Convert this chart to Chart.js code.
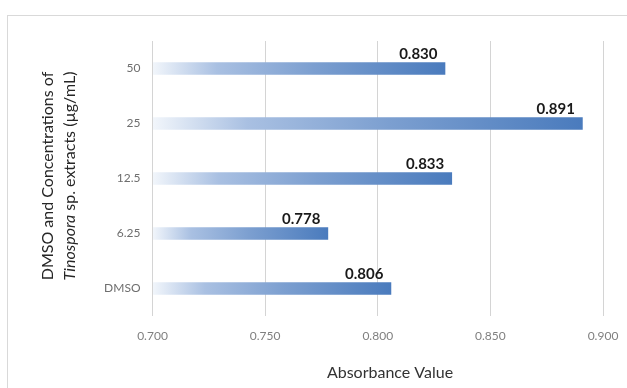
<!DOCTYPE html>
<html>
<head>
<meta charset="utf-8">
<script src="https://cdn.jsdelivr.net/npm/chart.js@4/dist/chart.umd.min.js"></script>
<style>
  html, body { margin: 0; padding: 0; background: #ffffff; }
  #wrap { width: 627px; height: 388px; position: relative; }
</style>
</head>
<body>
<div id="wrap"><canvas id="c" width="627" height="388"></canvas></div>
<script>
// Absorbance readings for DMSO and each extract concentration (µg/mL)
const categories = ['50', '25', '12.5', '6.25', 'DMSO'];
const absorbance = [0.830, 0.891, 0.833, 0.778, 0.806];
const xTicks = [0.700, 0.750, 0.800, 0.850, 0.900];
const xMin = 0.700;
const xMax = 0.900;

const FONT = 'Lato, "Open Sans", "Liberation Sans", sans-serif';

// Horizontal gradient along each bar: pale at the axis start, deep blue at the bar end
function barFill(ctx) {
  const chart = ctx.chart;
  if (!chart.chartArea || !chart.scales.x) return '#4f81bd';
  const sx = chart.scales.x;
  const x0 = sx.getPixelForValue(xMin);
  const x1 = sx.getPixelForValue(absorbance[ctx.dataIndex]);
  const g = chart.ctx.createLinearGradient(x0, 0, x1, 0);
  g.addColorStop(0, 'rgba(242,246,251,1)');
  g.addColorStop(0.22, '#a9c0e2');
  g.addColorStop(0.55, '#7c9fd0');
  g.addColorStop(1, '#4a7bbd');
  return g;
}

// Outer frame, axis titles and value labels
const decorations = {
  id: 'decorations',
  beforeDraw(chart) {
    const c = chart.ctx;
    c.save();
    c.fillStyle = '#ffffff';
    c.fillRect(0, 0, chart.width, chart.height);
    c.strokeStyle = '#d9d9d9';
    c.lineWidth = 1;
    c.strokeRect(7.5, 15.5, 800, 600);
    c.restore();
  },
  afterDatasetsDraw(chart) {
    const c = chart.ctx;
    const sx = chart.scales.x;
    const meta = chart.getDatasetMeta(0);
    c.save();
    // value labels above the bar ends
    c.font = 'bold 15px ' + FONT;
    c.fillStyle = '#1a1a1a';
    c.textAlign = 'center';
    c.textBaseline = 'alphabetic';
    meta.data.forEach((bar, i) => {
      const xEnd = sx.getPixelForValue(absorbance[i]);
      c.fillText(absorbance[i].toFixed(3), xEnd - 27, bar.y - 10);
    });

    // x axis title
    c.font = '16px ' + FONT;
    c.fillStyle = '#333333';
    c.textBaseline = 'middle';
    c.fillText('Absorbance Value', 390, 373);

    // y axis title (two lines, genus name in italics)
    c.translate(0, 176);
    c.rotate(-Math.PI / 2);
    c.textBaseline = 'middle';
    c.textAlign = 'center';
    c.fillStyle = '#262626';
    c.font = '16px ' + FONT;
    c.fillText('DMSO and Concentrations of', 0, 48);
    const italicPart = 'Tinospora';
    const rest = ' sp. extracts (µg/mL)';
    c.font = 'italic 16px ' + FONT;
    const w1 = c.measureText(italicPart).width;
    c.font = '16px ' + FONT;
    const w2 = c.measureText(rest).width;
    const start = -(w1 + w2) / 2;
    c.textAlign = 'left';
    c.font = 'italic 16px ' + FONT;
    c.fillText(italicPart, start, 70);
    c.font = '16px ' + FONT;
    c.fillText(rest, start + w1, 70);
    c.restore();
  }
};

new Chart(document.getElementById('c'), {
  type: 'bar',
  data: {
    labels: categories,
    datasets: [{
      data: absorbance,
      base: xMin,
      backgroundColor: barFill,
      borderWidth: 0,
      categoryPercentage: 1,
      barPercentage: 0.23
    }]
  },
  options: {
    indexAxis: 'y',
    responsive: false,
    animation: false,
    devicePixelRatio: 1,
    layout: { padding: { left: 0, right: 24, top: 41, bottom: 0 } },
    plugins: {
      legend: { display: false },
      tooltip: { enabled: false }
    },
    scales: {
      x: {
        min: xMin,
        max: xMax,
        afterBuildTicks(scale) { scale.ticks = xTicks.map(v => ({ value: v })); },
        afterFit(scale) {
          scale.height = 72;
          scale.paddingLeft = 0;
          scale.paddingRight = 0;
        },
        grid: { color: '#d4d4d4', lineWidth: 1, drawTicks: false },
        border: { display: false },
        ticks: {
          padding: 13,
          color: '#808080',
          font: { family: FONT, size: 12 },
          callback: v => Number(v).toFixed(3)
        }
      },
      y: {
        afterFit(scale) {
          scale.width = 152.5;
          scale.paddingTop = 0;
          scale.paddingBottom = 0;
        },
        grid: { display: false, drawTicks: false },
        border: { display: false },
        ticks: {
          padding: 12,
          color: '#6e6e6e',
          font: { family: FONT, size: 12 }
        }
      }
    }
  },
  plugins: [decorations]
});
</script>
</body>
</html>
